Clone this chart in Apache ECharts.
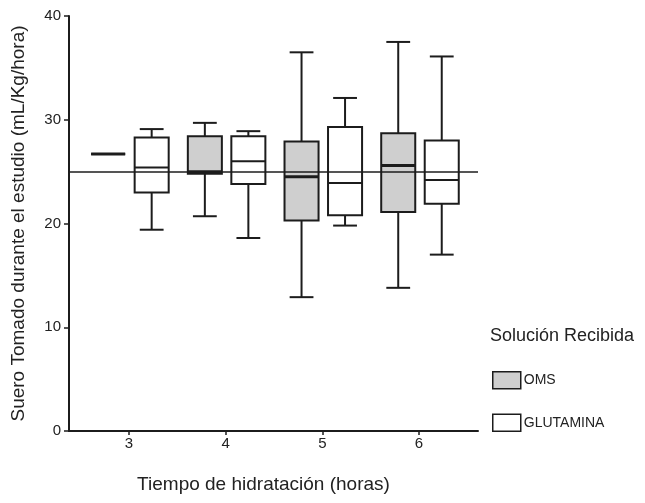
<!DOCTYPE html>
<html lang="es">
<head>
    <meta charset="UTF-8">
    <title>Suero tomado</title>
    <style>
        html, body { margin: 0; padding: 0; background: #fff; }
        #main { width: 645px; height: 503px; }
    </style>
</head>
<body>
<div id="main"></div>
<script src="https://cdn.jsdelivr.net/npm/echarts@6/dist/echarts.min.js"></script>
<script type="text/javascript">
    // horas de hidratacion
    var hours = [3, 4, 5, 6];
    var yTicks = [0, 10, 20, 30, 40];

    // OMS: min, Q1, mediana, Q3, max
    var omsMin = [26.7, 20.7, 12.9, 13.8];
    var omsQ1 = [26.7, 24.8, 20.3, 21.1];
    var omsMedian = [26.7, 25.0, 24.5, 25.6];
    var omsQ3 = [26.7, 28.4, 27.9, 28.7];
    var omsMax = [26.7, 29.7, 36.5, 37.5];

    // GLUTAMINA
    var glutMin = [19.4, 18.6, 19.8, 17.0];
    var glutQ1 = [23.0, 23.8, 20.8, 21.9];
    var glutMedian = [25.4, 26.0, 23.9, 24.2];
    var glutQ3 = [28.3, 28.4, 29.3, 28.0];
    var glutMax = [29.1, 28.9, 32.1, 36.1];

    var refValue = 25;

    function rows(mn, q1, md, q3, mx) {
        return hours.map(function (h, i) {
            return [h, mn[i], q1[i], md[i], q3[i], mx[i]];
        });
    }

    var ink = '#1c1c1c';

    // dibuja una caja con bigotes
    function boxItem(offset, fill, medianWidth) {
        return function (params, api) {
            var x = api.value(0) + offset;
            var pMin = api.coord([x, api.value(1)]);
            var pQ1 = api.coord([x, api.value(2)]);
            var pMed = api.coord([x, api.value(3)]);
            var pQ3 = api.coord([x, api.value(4)]);
            var pMax = api.coord([x, api.value(5)]);
            var half = api.size([0.352, 0])[0] / 2;
            var cap = half * 0.7;
            var cx = pMed[0];
            var line = {stroke: ink, lineWidth: 2};
            return {
                type: 'group',
                children: [
                    {type: 'line', shape: {x1: cx, y1: pMax[1], x2: cx, y2: pQ3[1]}, style: line},
                    {type: 'line', shape: {x1: cx, y1: pQ1[1], x2: cx, y2: pMin[1]}, style: line},
                    {type: 'line', shape: {x1: cx - cap, y1: pMax[1], x2: cx + cap, y2: pMax[1]}, style: line},
                    {type: 'line', shape: {x1: cx - cap, y1: pMin[1], x2: cx + cap, y2: pMin[1]}, style: line},
                    {
                        type: 'rect',
                        shape: {x: cx - half, y: pQ3[1], width: half * 2, height: pQ1[1] - pQ3[1]},
                        style: {fill: fill, stroke: ink, lineWidth: 2}
                    },
                    {
                        type: 'line',
                        shape: {x1: cx - half, y1: pMed[1], x2: cx + half, y2: pMed[1]},
                        style: {stroke: ink, lineWidth: medianWidth}
                    }
                ]
            };
        };
    }

    var myChart = echarts.init(document.getElementById('main'));

    var font = '"Liberation Sans", Arial, sans-serif';

    myChart.setOption({
        animation: false,
        textStyle: {fontFamily: font},
        title: {
            text: 'Solución Recibida',
            left: 490,
            top: 327,
            padding: 0,
            textStyle: {fontSize: 18, fontWeight: 'normal', color: '#222', fontFamily: font}
        },
        legend: {
            orient: 'vertical',
            left: 492,
            top: 371,
            padding: 0,
            itemWidth: 28,
            itemHeight: 17,
            itemGap: 24,
            icon: 'rect',
            textStyle: {fontSize: 14, color: '#222', fontFamily: font, padding: [0, 0, 0, -2]},
            data: [
                {name: 'OMS', itemStyle: {color: '#cfcfcf', borderColor: ink, borderWidth: 1.5}},
                {name: 'GLUTAMINA', itemStyle: {color: '#ffffff', borderColor: ink, borderWidth: 1.5}}
            ]
        },
        grid: {left: 69, right: 167, top: 16, bottom: 72},
        xAxis: {
            type: 'value',
            min: 2.38,
            max: 6.61,
            name: 'Tiempo de hidratación (horas)',
            nameLocation: 'middle',
            nameGap: 44,
            nameTextStyle: {fontSize: 19, color: '#222', padding: [0, 20, 0, 0]},
            axisLine: {lineStyle: {color: ink, width: 2}},
            axisTick: {show: true, length: 4, customValues: hours, lineStyle: {color: ink, width: 1.5}},
            axisLabel: {customValues: hours, fontSize: 15, color: '#222', margin: 5},
            splitLine: {show: false}
        },
        yAxis: {
            type: 'value',
            min: 0,
            max: 40,
            interval: 10,
            name: 'Suero Tomado durante el estudio (mL/Kg/hora)',
            nameLocation: 'middle',
            nameGap: 41,
            nameTextStyle: {fontSize: 19, color: '#222'},
            axisLine: {show: true, lineStyle: {color: ink, width: 2}},
            axisTick: {show: true, length: 5, lineStyle: {color: ink, width: 1.5}},
            axisLabel: {
                fontSize: 15, color: '#222', margin: 8,
                formatter: function (v) { return yTicks.indexOf(v) >= 0 ? String(v) : ''; }
            },
            splitLine: {show: false}
        },
        series: [{
            name: 'OMS',
            type: 'custom',
            renderItem: boxItem(-0.215, '#cfcfcf', 3),
            itemStyle: {color: '#cfcfcf', borderColor: ink},
            encode: {x: 0, y: [1, 2, 3, 4, 5]},
            data: rows(omsMin, omsQ1, omsMedian, omsQ3, omsMax),
            z: 3
        }, {
            name: 'GLUTAMINA',
            type: 'custom',
            renderItem: boxItem(0.235, '#ffffff', 2),
            itemStyle: {color: '#ffffff', borderColor: ink},
            encode: {x: 0, y: [1, 2, 3, 4, 5]},
            data: rows(glutMin, glutQ1, glutMedian, glutQ3, glutMax),
            z: 3,
            markLine: {
                silent: true,
                symbol: 'none',
                label: {show: false},
                lineStyle: {color: ink, width: 1.5, type: 'solid'},
                data: [{yAxis: refValue}],
                z: 5
            }
        }]
    });

    window.addEventListener('resize', function () {
        myChart.resize();
    });
</script>
</body>
</html>
